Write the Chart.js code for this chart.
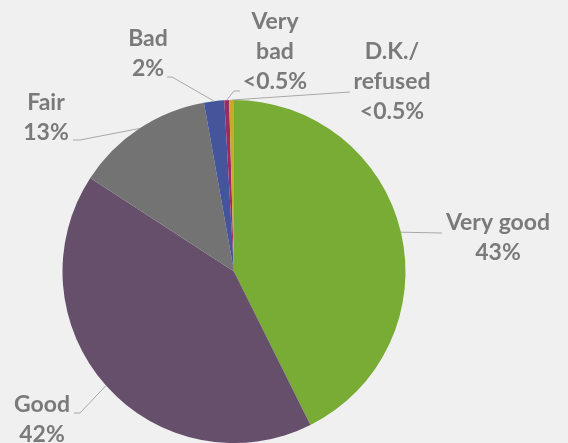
<!DOCTYPE html>
<html>
<head>
<meta charset="utf-8">
<script src="https://cdn.jsdelivr.net/npm/chart.js@4.4.0/dist/chart.umd.min.js"></script>
<style>
  html, body { margin: 0; padding: 0; background: #f0f0f0; }
  #wrap { width: 568px; height: 443px; position: relative; }
</style>
</head>
<body>
<div id="wrap"><canvas id="pieChart"></canvas></div>
<script>
var categories = ["Very good", "Good", "Fair", "Bad", "Very bad", "D.K./ refused"];
var values = [42.6, 41.5, 13.0, 1.9, 0.45, 0.45];
var pctLabels = ["43%", "42%", "13%", "2%", "<0.5%", "<0.5%"];
var colors = ["#78ac35", "#654f6a", "#737373", "#44559b", "#9c2b63", "#c9a82b"];

// label text lines, centre position and leader line bend points
var labelLines = [
  ["Very good"], ["Good"], ["Fair"], ["Bad"], ["Very", "bad"], ["D.K./", "refused"]
];
var labelPos = [
  { x: 498, y: 223, path: [[442, 233]] },
  { x: 42, y: 405, path: [[80, 413], [74, 413]] },
  { x: 46, y: 103, path: [[80, 140], [73, 140]] },
  { x: 148, y: 39, path: [[172, 77], [167, 77]] },
  { x: 275, y: 22, path: [[234, 91], [240, 91]] },
  { x: 392, y: 52, path: [[350, 92]] }
];

var pieLabels = {
  id: 'pieLabels',
  afterDatasetsDraw: function (chart) {
    var ctx = chart.ctx;
    var arcs = chart.getDatasetMeta(0).data;
    ctx.save();
    arcs.forEach(function (arc, i) {
      var a = (arc.startAngle + arc.endAngle) / 2;
      var ax = arc.x + Math.cos(a) * arc.outerRadius;
      var ay = arc.y + Math.sin(a) * arc.outerRadius;
      var p = labelPos[i];
      ctx.strokeStyle = '#a8a8a8';
      ctx.lineWidth = 1;
      ctx.beginPath();
      ctx.moveTo(ax, ay);
      p.path.forEach(function (pt) { ctx.lineTo(pt[0], pt[1]); });
      ctx.stroke();

      ctx.fillStyle = '#7a7a7a';
      ctx.font = 'bold 23px Lato';
      ctx.textAlign = 'center';
      ctx.textBaseline = 'middle';
      var lines = labelLines[i].concat([pctLabels[i]]);
      lines.forEach(function (t, k) {
        ctx.fillText(t, p.x, p.y + k * 30);
      });
    });
    ctx.restore();
  }
};

new Chart(document.getElementById('pieChart'), {
  type: 'pie',
  data: {
    labels: categories,
    datasets: [{
      data: values,
      backgroundColor: colors,
      borderWidth: 0
    }]
  },
  options: {
    responsive: true,
    maintainAspectRatio: false,
    animation: false,
    layout: { padding: { left: 62, right: 162, top: 100, bottom: 0 } },
    plugins: {
      legend: { display: false },
      tooltip: { enabled: false }
    }
  },
  plugins: [pieLabels]
});
</script>
</body>
</html>
